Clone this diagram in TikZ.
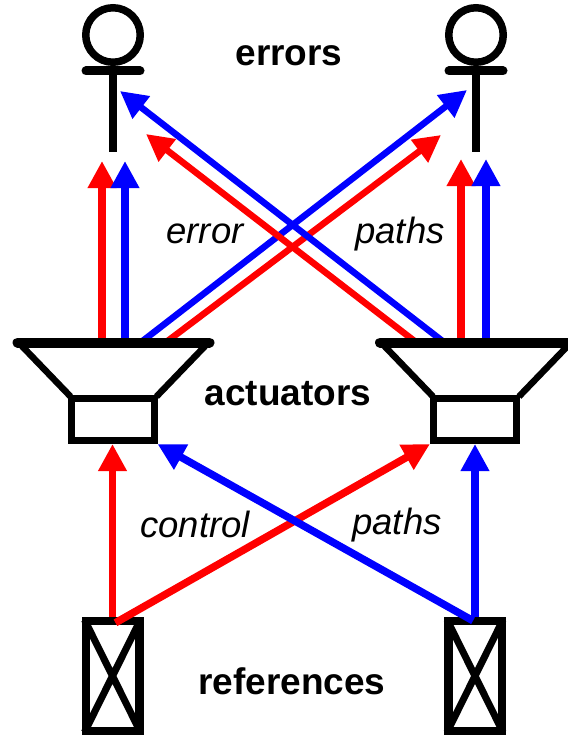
\documentclass[tikz,border=0pt]{standalone}
\usepackage{fontspec}
\setmainfont{Liberation Sans}
\usetikzlibrary{
    arrows.meta
}
\tikzset{
    path/.style={-{Triangle[length=27pt,width=27pt]}, line width=7.5pt},
    crosspath/.style={-{Triangle[length=27pt,width=27pt]}, line width=6.5pt},
    coil/.style={draw, line width=7pt, minimum width=83pt, minimum height=42pt, inner sep=0pt},
    source/.style={draw, line width=8.5pt, minimum width=53.5pt, minimum height=110pt, inner sep=0pt},
    micro/.style={draw, circle, line width=7.5pt, minimum size=54.5pt, inner sep=0pt},
    group/.style={font=\bfseries\fontsize{37}{37}\selectfont},
    pathname/.style={font=\itshape\fontsize{36.5}{37}\selectfont}
}

\begin{document}
\begin{tikzpicture}[
    x=1pt,
    y=-1pt
]
\useasboundingbox (0,0) rectangle (567,738);

% Free ends of the upper paths
\coordinate (mouthA) at (102,345);
\coordinate (mouthB) at (125,345);
\coordinate (mouthC) at (461,345);
\coordinate (mouthD) at (486,345);
\coordinate (slantA) at (140,343);
\coordinate (slantB) at (165,343);
\coordinate (slantC) at (417,343);
\coordinate (slantD) at (445,343);
\coordinate (errA) at (102,161);
\coordinate (errB) at (125,161);
\coordinate (errC) at (461,159);
\coordinate (errD) at (486,159);
\coordinate (errE) at (467,90);
\coordinate (errF) at (441,135);
\coordinate (errG) at (120,91);
\coordinate (errH) at (146,134);

% Nodes
\node[coil] (coilA) at (112.5,419.5) {};
\node[coil] (coilB) at (475,419.5) {};
\node[source] (refA) at (112.5,676) {};
\node[source] (refB) at (475,676) {};
\node[micro] (micA) at (113,35) {};
\node[micro] (micB) at (476,35) {};

% Error paths
\draw[crosspath, blue] (slantA) -- (errE);
\draw[crosspath, red] (slantB) -- (errF);
\draw[crosspath, blue] (slantD) -- (errG);
\draw[crosspath, red] (slantC) -- (errH);
\draw[path, red] (mouthA) -- (errA);
\draw[path, blue] (mouthB) -- (errB);
\draw[path, red] (mouthC) -- (errC);
\draw[path, blue] (mouthD) -- (errD);

% Control paths
\draw[path, red] (refA.north) -- (coilA.south);
\draw[path, blue] (refB.north) -- (coilB.south);
\draw[path, red] ([xshift=3pt,yshift=-6pt]refA.north) -- (coilB.south west);
\draw[path, blue] ([xshift=-2pt,yshift=-4pt]refB.north) -- (coilA.south east);

% Microphones
\foreach \name in {micA,micB}{
    \draw[line width=9pt, line cap=round]
        ([xshift=-27pt,yshift=-36pt]\name.center) -- ([xshift=27pt,yshift=-36pt]\name.center);
    \draw[line width=8pt]
        ([yshift=-36pt]\name.center) -- ([yshift=-117pt]\name.center);
}

% Cones
\foreach \name in {coilA,coilB}{
    \draw[line width=6.5pt]
        ([xshift=-94pt,yshift=77pt]\name.center) -- ([xshift=-42pt,yshift=23pt]\name.center)
        ([xshift=96pt,yshift=77pt]\name.center) -- ([xshift=44pt,yshift=23pt]\name.center);
    \draw[line width=10pt, line cap=round]
        ([xshift=-95pt,yshift=77pt]\name.center) -- ([xshift=97pt,yshift=77pt]\name.center);
}

% Crosses
\foreach \name in {refA,refB}{
    \draw[line width=7pt]
        ([xshift=3pt,yshift=-3pt]\name.north west) -- ([xshift=-3pt,yshift=3pt]\name.south east)
        ([xshift=-3pt,yshift=-3pt]\name.north east) -- ([xshift=3pt,yshift=3pt]\name.south west);
}

% Labels
\node[group] (errors) at (289,56) {errors};
\node[group] (actuators) at (288,394) {actuators};
\node[group] (references) at (292,681) {references};
\node[pathname] (errorA) at (205,234) {error};
\node[pathname] (errorB) at (400,234) {paths};
\node[pathname] (controlA) at (195,524) {control};
\node[pathname] (controlB) at (397,525) {paths};

\end{tikzpicture}
\end{document}
